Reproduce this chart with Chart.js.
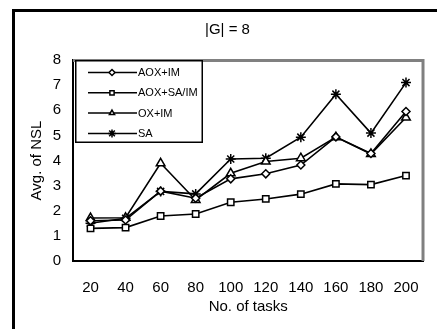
<!DOCTYPE html>
<html>
<head>
<meta charset="utf-8">
<script src="https://cdn.jsdelivr.net/npm/chart.js@4/dist/chart.umd.min.js"></script>
<style>
  html, body { margin: 0; padding: 0; background: #fff; }
  #wrap { width: 437px; height: 329px; }
</style>
</head>
<body>
<div id="wrap"><canvas id="nslChart" width="437" height="329"></canvas></div>
<script>
// nombre de taches
const tasks = ['20', '40', '60', '80', '100', '120', '140', '160', '180', '200'];

// NSL moyen par algorithme
const aoxIm = [1.6, 1.63, 2.78, 2.5, 3.27, 3.47, 3.82, 4.94, 4.28, 5.95];
const aoxSaIm = [1.3, 1.33, 1.79, 1.87, 2.34, 2.47, 2.66, 3.07, 3.04, 3.4];
const oxIm = [1.71, 1.72, 3.89, 2.43, 3.49, 3.96, 4.09, 4.93, 4.26, 5.71];
const sa = [1.5, 1.7, 2.77, 2.67, 4.06, 4.09, 4.93, 6.64, 5.09, 7.1];

const FONT = '"Liberation Sans", Arial, sans-serif';

function serie(label, data, style, radius) {
    return {
        label: label,
        data: data,
        borderColor: '#000',
        borderWidth: 1.6,
        pointStyle: style,
        pointRadius: radius,
        pointBackgroundColor: '#fff',
        pointBorderColor: '#000',
        pointBorderWidth: 1.5,
        tension: 0,
        fill: false
    };
}

/**
 * cadre exterieur + bord gris du graphique
 */
const framePlugin = {
    id: 'frame',
    beforeDraw(chart) {
        const ctx = chart.ctx;
        ctx.save();
        ctx.fillStyle = '#fff';
        ctx.fillRect(0, 0, chart.width, chart.height);
        ctx.strokeStyle = '#000';
        ctx.lineWidth = 3;
        ctx.beginPath();
        ctx.moveTo(13.5, chart.height);
        ctx.lineTo(13.5, 10.5);
        ctx.lineTo(chart.width, 10.5);
        ctx.stroke();
        ctx.restore();
    },
    beforeDatasetsDraw(chart) {
        const a = chart.chartArea;
        const ctx = chart.ctx;
        ctx.save();
        ctx.strokeStyle = '#808080';
        ctx.lineWidth = 3;
        ctx.beginPath();
        ctx.moveTo(a.left, a.top + 0.5);
        ctx.lineTo(a.right - 0.5, a.top + 0.5);
        ctx.lineTo(a.right - 0.5, a.bottom);
        ctx.stroke();
        ctx.restore();
    }
};

/**
 * legende dessinee dans la zone du graphique, en haut a gauche
 */
const boxLegend = {
    id: 'boxLegend',
    afterDraw(chart) {
        const a = chart.chartArea;
        const ctx = chart.ctx;
        const x0 = a.left + 2;
        const y0 = a.top;
        const w = 128, h = 83;
        ctx.save();
        ctx.fillStyle = '#fff';
        ctx.fillRect(x0, y0, w, h);
        ctx.strokeStyle = '#000';
        ctx.lineWidth = 1.5;
        ctx.strokeRect(x0 + 0.75, y0 + 0.75, w - 1.5, h - 1.5);
        ctx.font = '11px ' + FONT;
        ctx.textBaseline = 'middle';
        chart.data.datasets.forEach((ds, i) => {
            const y = y0 + 12.5 + i * 20.3;
            ctx.strokeStyle = '#000';
            ctx.lineWidth = 1.5;
            ctx.beginPath();
            ctx.moveTo(x0 + 13, y);
            ctx.lineTo(x0 + 62, y);
            ctx.stroke();
            ctx.fillStyle = '#fff';
            Chart.helpers.drawPoint(ctx, {
                pointStyle: ds.pointStyle,
                radius: ds.pointStyle === 'star' ? 4 : 3,
                borderWidth: ds.pointStyle === 'star' ? 1.2 : 1.5,
                rotation: 0
            }, x0 + 37, y);
            ctx.fillStyle = '#000';
            ctx.fillText(ds.label, x0 + 63, y + 0.5);
        });
        ctx.restore();
    }
};

const ctx = document.getElementById('nslChart');

new Chart(ctx, {
    type: 'line',
    data: {
        labels: tasks,
        datasets: [
            serie('AOX+IM', aoxIm, 'rectRot', 4),
            serie('AOX+SA/IM', aoxSaIm, 'rect', 4.5),
            serie('OX+IM', oxIm, 'triangle', 5),
            serie('SA', sa, 'star', 5)
        ]
    },
    options: {
        responsive: false,
        animation: false,
        layout: {
            padding: { left: 28, right: 10, top: 0, bottom: 0 }
        },
        scales: {
            x: {
                type: 'category',
                offset: true,
                grid: { display: false, drawTicks: false },
                border: { display: true, color: '#000', width: 2 },
                ticks: {
                    color: '#000',
                    padding: 18,
                    maxRotation: 0,
                    autoSkip: false,
                    font: { family: FONT, size: 15 }
                },
                title: {
                    display: true,
                    text: 'No. of tasks',
                    color: '#000',
                    font: { family: FONT, size: 15 },
                    padding: { top: 0, bottom: 13 }
                },
                afterFit(scale) { scale.height = 68; }
            },
            y: {
                min: 0,
                max: 8,
                grid: { display: false, drawTicks: false },
                border: { display: true, color: '#000', width: 2 },
                ticks: {
                    stepSize: 1,
                    color: '#000',
                    padding: 12,
                    font: { family: FONT, size: 15 }
                },
                title: {
                    display: true,
                    text: 'Avg. of NSL',
                    color: '#000',
                    font: { family: FONT, size: 15 },
                    padding: { top: 0, bottom: 0 }
                },
                afterFit(scale) { scale.width = 45; }
            }
        },
        plugins: {
            legend: { display: false },
            tooltip: { enabled: false },
            title: {
                display: true,
                text: '|G| = 8',
                color: '#000',
                font: { family: FONT, size: 15, weight: 'normal' },
                padding: { top: 21, bottom: 21 }
            }
        }
    },
    plugins: [framePlugin, boxLegend]
});
</script>
</body>
</html>
